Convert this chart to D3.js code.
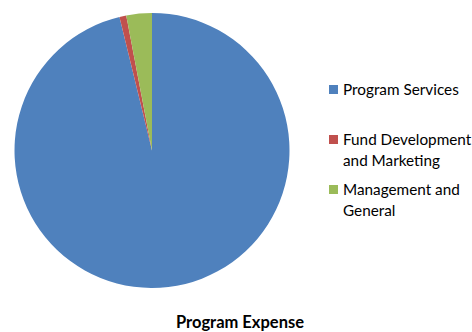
<!DOCTYPE html>
<html>
<head>
<meta charset="utf-8">
<script src="https://cdn.jsdelivr.net/npm/d3@7"></script>
<style>
  body { margin: 0; background: #fff; }
  svg { display: block; font-family: Lato, "Open Sans", sans-serif; }
</style>
</head>
<body>
<svg width="472" height="332"></svg>
<script>
// Chart data
const categories = ['Program Services', 'Fund Development and Marketing', 'Management and General'];
const values = [96.2, 0.8, 3.0];
const colors = ['#4F81BD', '#C0504D', '#9BBB59'];
// legend labels split into lines, the way the reference wraps them
const legendLines = [['Program Services'], ['Fund Development', 'and Marketing'], ['Management and', 'General']];
const title = 'Program Expense';

const svg = d3.select('svg');

// Pie
const cx = 152, cy = 150.5, radius = 137.5;
const pie = d3.pie().sort(null).value(d => d);
const arc = d3.arc().innerRadius(0).outerRadius(radius);

svg.append('g')
    .attr('transform', `translate(${cx},${cy})`)
    .selectAll('path')
    .data(pie(values))
    .enter().append('path')
    .attr('d', arc)
    .attr('fill', (d, i) => colors[i]);

// Legend
const legendY = [90, 140, 190];
const legend = svg.append('g').attr('class', 'legend');
categories.forEach((c, i) => {
    const g = legend.append('g').attr('transform', `translate(329,${legendY[i]})`);
    g.append('rect')
        .attr('x', 0).attr('y', -5)
        .attr('width', 9).attr('height', 9)
        .attr('fill', colors[i]);
    g.selectAll('text')
        .data(legendLines[i])
        .enter().append('text')
        .attr('x', 14)
        .attr('y', (d, j) => j * 21)
        .attr('dy', '0.35em')
        .attr('font-size', 15.3)
        .attr('fill', '#000')
        .text(d => d);
});

// Title
svg.append('text')
    .attr('x', 240)
    .attr('y', 327.5)
    .attr('text-anchor', 'middle')
    .attr('font-size', 16.5)
    .attr('font-weight', 'bold')
    .text(title);
</script>
</body>
</html>
